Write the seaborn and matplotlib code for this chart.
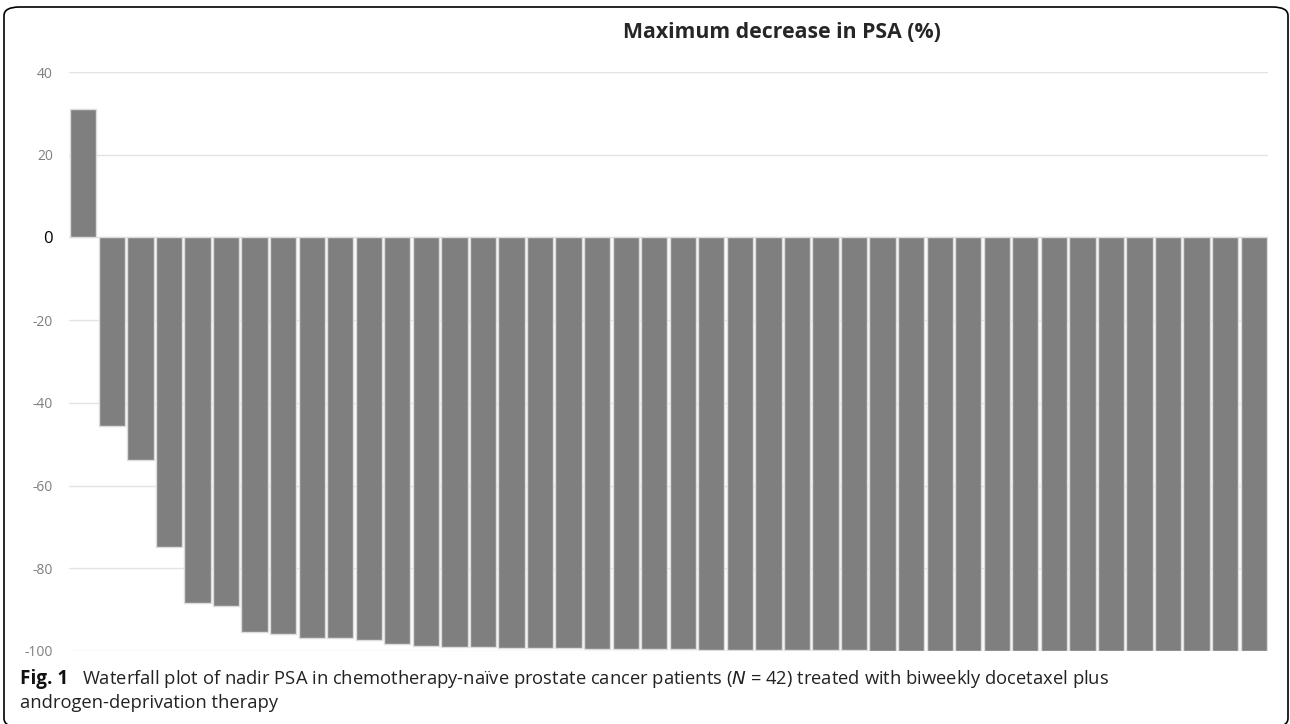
import numpy as np
import matplotlib
matplotlib.use("Agg")
import matplotlib.pyplot as plt
from matplotlib.patches import FancyBboxPatch
import seaborn as sns
import pandas as pd

# data (one bar per patient, sorted)
patients = list(range(1, 43))
max_decrease = [31.0, -45.5, -53.7, -74.9, -88.4, -89.1, -95.3, -95.8, -96.8, -96.9,
                -97.3, -98.4, -98.9, -99.0, -99.0, -99.2, -99.3, -99.3, -99.4, -99.4,
                -99.4, -99.6, -99.7, -99.7, -99.8, -99.8, -99.8, -99.8, -99.9, -99.9,
                -99.9, -99.9, -100, -100, -100, -100, -100, -100, -100, -100,
                -100, -100]
yticks = [-100, -80, -60, -40, -20, 0, 20, 40]

title = "Maximum decrease in PSA (%)"
caption_bold = "Fig. 1"
caption_1 = ("Waterfall plot of nadir PSA in chemotherapy-naïve prostate cancer patients "
             "($\\mathit{N}$ = 42) treated with biweekly docetaxel plus")
caption_2 = "androgen-deprivation therapy"

df = pd.DataFrame({"patient": patients, "decrease": max_decrease})

sns.set_style("white")
plt.rcParams['font.family'] = ['Open Sans', 'DejaVu Sans']

W, H = 1290, 724
fig = plt.figure(figsize=(12.9, 7.24), dpi=100)
ax = fig.add_axes([69/W, 1 - 651/H, (1268 - 69)/W, (651 - 72)/H])

sns.barplot(data=df, x="patient", y="decrease", color="#7f7f7f", saturation=1,
            edgecolor="#dcdcdc", linewidth=1, width=0.92, ax=ax, zorder=3)

ax.set_ylim(-100, 40)
ax.set_xlim(-0.5, len(patients) - 0.5)
ax.set_yticks(yticks)
ax.set_yticklabels([str(v) for v in yticks])
ax.yaxis.grid(True, color="#e3e3e3", linewidth=1, zorder=0)
ax.set_axisbelow(True)
ax.set_xticks([])
ax.set_xlabel("")
ax.set_ylabel("")
for s in ax.spines.values():
    s.set_visible(False)
ax.tick_params(axis="y", length=0, pad=11.5, labelsize=10, labelcolor="#7f7f7f")
for lab in ax.get_yticklabels():
    if lab.get_text() == "0":
        lab.set_color("black")
        lab.set_fontsize(12)

t_title = fig.text(782/W, 1 - 33/H, title, ha="center", va="center",
                   fontsize=14, fontweight="bold")

# caption under the plot
t_c1 = fig.text(82/W, 1 - 679/H, caption_1, ha="left", va="center", fontsize=12,
                color="#222222")
t_c2 = fig.text(20/W, 1 - 703/H, caption_2, ha="left", va="center", fontsize=12,
                color="#222222")

# scale the font sizes so the texts span the same width as in the reference
renderer = fig.canvas.get_renderer()
for txt, target in [(t_title, 319), (t_c1, 1023), (t_c2, 257)]:
    w = txt.get_window_extent(renderer).width
    txt.set_fontsize(txt.get_fontsize() * target / w)

fig.text(20/W, 1 - 679/H, caption_bold, ha="left", va="center",
         fontsize=t_c1.get_fontsize() * 1.03, fontweight="bold", color="#111111")

# rounded frame round the whole figure
frame = FancyBboxPatch((4/W, -3/H), 1284/W, 720/H,
                       boxstyle="round,pad=0,rounding_size=0.012",
                       transform=fig.transFigure, fill=False,
                       edgecolor="black", linewidth=1.2)
fig.patches.append(frame)

fig.savefig("out.png", dpi=100)
